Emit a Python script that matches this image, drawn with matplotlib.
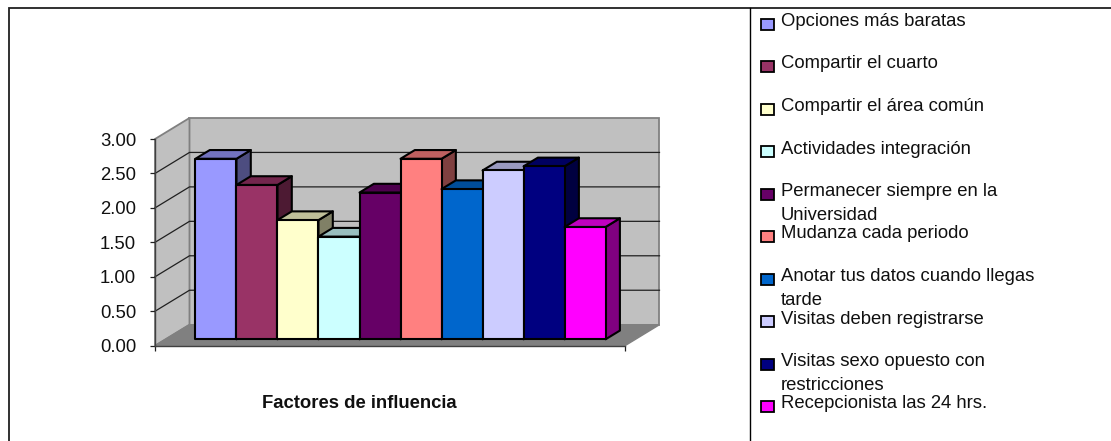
import matplotlib
matplotlib.use('Agg')
import matplotlib.pyplot as plt
from matplotlib.colors import to_rgb
from matplotlib.patches import Polygon, Rectangle
import numpy as np

plt.rcParams['font.family'] = ['Liberation Sans', 'DejaVu Sans']

labels = ['Opciones más baratas', 'Compartir el cuarto', 'Compartir el área común',
          'Actividades integración', 'Permanecer siempre en la\nUniversidad',
          'Mudanza cada periodo', 'Anotar tus datos cuando llegas\ntarde',
          'Visitas deben registrarse', 'Visitas sexo opuesto con\nrestricciones',
          'Recepcionista las 24 hrs.']
values = [2.62, 2.24, 1.73, 1.49, 2.13, 2.62, 2.18, 2.45, 2.51, 1.63]
colors = ['#9999FF', '#993366', '#FFFFCC', '#CCFFFF', '#660066',
          '#FF8080', '#0066CC', '#CCCCFF', '#000080', '#FF00FF']
y_ticks = [0, 0.5, 1, 1.5, 2, 2.5, 3]
xlabel = 'Factores de influencia'

W, H = 1111, 441
fig = plt.figure(figsize=(W / 100, H / 100), dpi=100)

# overlay in pixels for the frame and the legend
bg = fig.add_axes([0, 0, 1, 1])
bg.set_xlim(0, W)
bg.set_ylim(H, 0)
bg.axis('off')
bg.plot([8.5, 8.5, W], [H, 8, 8], color='#202020', lw=1.3, solid_joinstyle='miter')
bg.plot([749.5, 749.5], [8, H], color='black', lw=1.0)

for i, (lab, c) in enumerate(zip(labels, colors)):
    yc = 24 + i * 42.5
    bg.add_patch(Rectangle((760.5, yc - 5.5), 13, 11, facecolor=c, edgecolor='black', lw=1.3))
    for j, line in enumerate(lab.split('\n')):
        bg.text(781, yc - 2.5 + j * 24, line, fontsize=13.3, va='center', ha='left', color='#101010')

# main axes: front plane of the 3d box
ax = fig.add_axes([155 / W, 1 - 345.7 / H, 470 / W, 206.7 / H])
ax.patch.set_alpha(0)
x_max = 11.46
ax.set_xlim(0, x_max)
ax.set_ylim(0, 3)
dx = 0.841   # x shift of the back wall, in data units
dy = 0.305   # y shift of the back wall, in data units


def pt(x, y, d):
    return (x + d * dx, y + d * dy)


wall = '#C0C0C0'
edge = '#808080'
ax.add_patch(Polygon([pt(0, 0, 1), pt(x_max, 0, 1), pt(x_max, 3, 1), pt(0, 3, 1)],
                     facecolor=wall, edgecolor=edge, lw=1.3, clip_on=False, zorder=1))
ax.add_patch(Polygon([pt(0, 0, 0), pt(0, 0, 1), pt(0, 3, 1), pt(0, 3, 0)],
                     facecolor=wall, edgecolor=edge, lw=1.3, clip_on=False, zorder=1))
ax.add_patch(Polygon([pt(0, 0, 0), pt(x_max, 0, 0), pt(x_max, 0, 1), pt(0, 0, 1)],
                     facecolor=edge, edgecolor=edge, lw=1.0, clip_on=False, zorder=1))

for t in y_ticks[1:-1]:
    a, b, c = pt(0, t, 0), pt(0, t, 1), pt(x_max, t, 1)
    ax.plot([a[0], b[0], c[0]], [a[1], b[1], c[1]], color='#202020', lw=0.9,
            clip_on=False, zorder=1.5)

# bars, left to right so each one covers the side of the previous
d0, d1 = 0.305, 0.72
x_start = 0.73
for i, (v, c) in enumerate(zip(values, colors)):
    x0, x1 = x_start + i, x_start + i + 1
    rgb = np.array(to_rgb(c))
    z = 3 + i * 0.1
    kw = dict(edgecolor='black', lw=1.5, clip_on=False, zorder=z, joinstyle='round')
    ax.add_patch(Polygon([pt(x1, 0, d0), pt(x1, 0, d1), pt(x1, v, d1), pt(x1, v, d0)],
                         facecolor=rgb * 0.5, **kw))
    ax.add_patch(Polygon([pt(x0, v, d0), pt(x1, v, d0), pt(x1, v, d1), pt(x0, v, d1)],
                         facecolor=rgb * 0.75, **kw))
    ax.add_patch(Polygon([pt(x0, 0, d0), pt(x1, 0, d0), pt(x1, v, d0), pt(x0, v, d0)],
                         facecolor=rgb, **kw))

for s in ['top', 'right']:
    ax.spines[s].set_visible(False)
for s in ['left', 'bottom']:
    ax.spines[s].set_color('#404040')
    ax.spines[s].set_linewidth(1.0)

ax.set_yticks(y_ticks)
ax.set_yticklabels([f'{t:.2f}' for t in y_ticks], fontsize=13.3, color='#101010')
ax.set_xticks([0, x_max])
ax.set_xticklabels([])
ax.tick_params(axis='both', length=3.6, width=0.9, color='#202020')
ax.tick_params(axis='y', pad=10)

bg.text(359, 403, xlabel, fontsize=13.3, fontweight='bold', ha='center', va='center', color='#101010')

fig.savefig('out.png', dpi=100)
